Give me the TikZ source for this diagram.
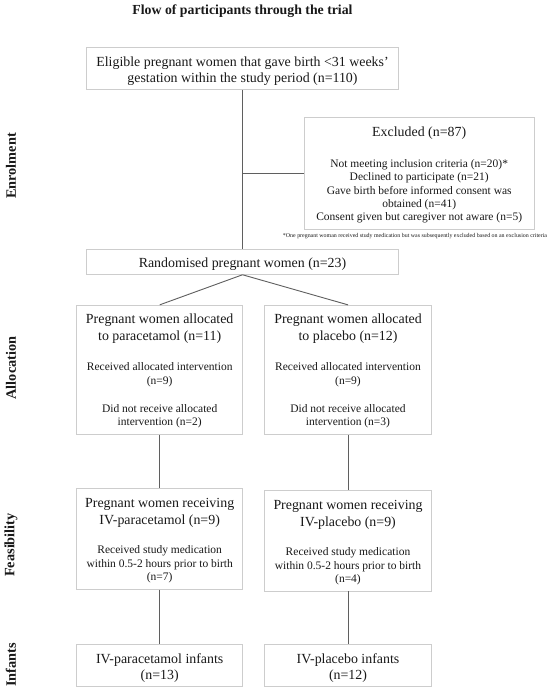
\documentclass[tikz,border=0pt]{standalone}
\usepackage{fontspec}
\usepackage{graphicx}
\setmainfont{Liberation Serif}
\definecolor{boxgray}{RGB}{205,205,205}
\definecolor{linegray}{RGB}{95,95,95}
\definecolor{txt}{RGB}{25,25,25}
\begin{document}
\begin{tikzpicture}[x=1pt,y=-1pt,
  box/.style={draw=boxgray, line width=0.9pt, rectangle, inner sep=0pt},
  link/.style={draw=linegray, line width=0.9pt},
  big/.style={font=\fontsize{13.9}{17.3}\selectfont, align=center, inner sep=0pt, text=txt},
  bigt/.style={font=\fontsize{13.9}{16}\selectfont, align=center, inner sep=0pt, text=txt},
  small/.style={font=\fontsize{11.5}{13.5}\selectfont, align=center, inner sep=0pt, text=txt},
  side/.style={font=\bfseries\fontsize{14.3}{16}\selectfont, rotate=90, inner sep=0pt, text=txt}]
\fill[white] (0,0) rectangle (550,694);
\useasboundingbox (0,0) rectangle (550,694);

\node[font=\bfseries\fontsize{13.8}{16}\selectfont, inner sep=0pt, text=txt, anchor=base] (title) at (242.5,14) {Flow of participants through the trial};

% side labels
\node[side] (enr) at (11,166) {Enrolment};
\node[side] (all) at (11,368) {Allocation};
\node[side] (fea) at (11,545) {Feasibility};
\node[side] (inf) at (11,665) {Infants};

% enrolment
\node[box, minimum width=311.3pt, minimum height=41.6pt] (elig) at (242.5,68.5) {};
\node[bigt] (eligT) at (242.5,71.4) {Eligible pregnant women that gave birth <31 weeks’\\gestation within the study period (n=110)};

\node[box, minimum width=230.3pt, minimum height=111.7pt] (excl) at (419.2,173.2) {};
\node[font=\fontsize{13.9}{16}\selectfont, inner sep=0pt, text=txt, anchor=base] (exT) at (419.2,136.7) {Excluded (n=87)};
\node[font=\fontsize{11.5}{13.35}\selectfont, align=center, inner sep=0pt, text=txt] (exL) at (419.2,191.3) {Not meeting inclusion criteria (n=20)*\\Declined to participate (n=21)\\Gave birth before informed consent was\\obtained (n=41)\\Consent given but caregiver not aware (n=5)};
\node[inner sep=0pt, text=txt, anchor=base] (foot) at (415,237.7) {\resizebox{264pt}{!}{\fontsize{6}{7}\selectfont *One pregnant woman received study medication but was subsequently excluded based on an exclusion criteria}};

\node[box, minimum width=311.6pt, minimum height=25pt] (rand) at (242.5,261.8) {};
\node[font=\fontsize{13.9}{16}\selectfont, inner sep=0pt, text=txt, anchor=base] (randT) at (242.5,267.3) {Randomised pregnant women (n=23)};

% allocation
\node[box, minimum width=166pt, minimum height=129pt] (alL) at (159.7,369.8) {};
\node[big] (alLT) at (159.7,328.5) {Pregnant women allocated\\to paracetamol (n=11)};
\node[small] (alLa) at (159.7,374.8) {Received allocated intervention\\(n=9)};
\node[small] (alLb) at (159.7,416.1) {Did not receive allocated\\intervention (n=2)};

\node[box, minimum width=167pt, minimum height=129pt] (alR) at (348,369.8) {};
\node[big] (alRT) at (348,328.5) {Pregnant women allocated\\to placebo (n=12)};
\node[small] (alRa) at (348,374.8) {Received allocated intervention\\(n=9)};
\node[small] (alRb) at (348,416.1) {Did not receive allocated\\intervention (n=3)};

% feasibility
\node[box, minimum width=166pt, minimum height=100.5pt] (feL) at (159.7,539) {};
\node[big] (feLT) at (159.7,513) {Pregnant women receiving\\IV-paracetamol (n=9)};
\node[small] (feLa) at (159.7,564.6) {Received study medication\\within 0.5-2 hours prior to birth\\(n=7)};

\node[box, minimum width=167pt, minimum height=100.3pt] (feR) at (348,540.8) {};
\node[big] (feRT) at (348,514.7) {Pregnant women receiving\\IV-placebo (n=9)};
\node[small] (feRa) at (348,566.3) {Received study medication\\within 0.5-2 hours prior to birth\\(n=4)};

% infants
\node[box, minimum width=166pt, minimum height=42.4pt] (inL) at (159.7,665.5) {};
\node[bigt] (inLT) at (159.7,667.6) {IV-paracetamol infants\\(n=13)};

\node[box, minimum width=167pt, minimum height=42.4pt] (inR) at (348,665.5) {};
\node[bigt] (inRT) at (348,667.6) {IV-placebo infants\\(n=12)};

% connectors
\draw[link] (elig.south) -- (rand.north);
\draw[link] (elig.south |- excl.west) -- (excl.west);
\draw[link] (rand.south) -- (alL.north);
\draw[link] (rand.south) -- (alR.north);
\draw[link] (alL.south) -- (feL.north);
\draw[link] (alR.south) -- (feR.north);
\draw[link] (feL.south) -- (inL.north);
\draw[link] (feR.south) -- (inR.north);
\end{tikzpicture}
\end{document}
